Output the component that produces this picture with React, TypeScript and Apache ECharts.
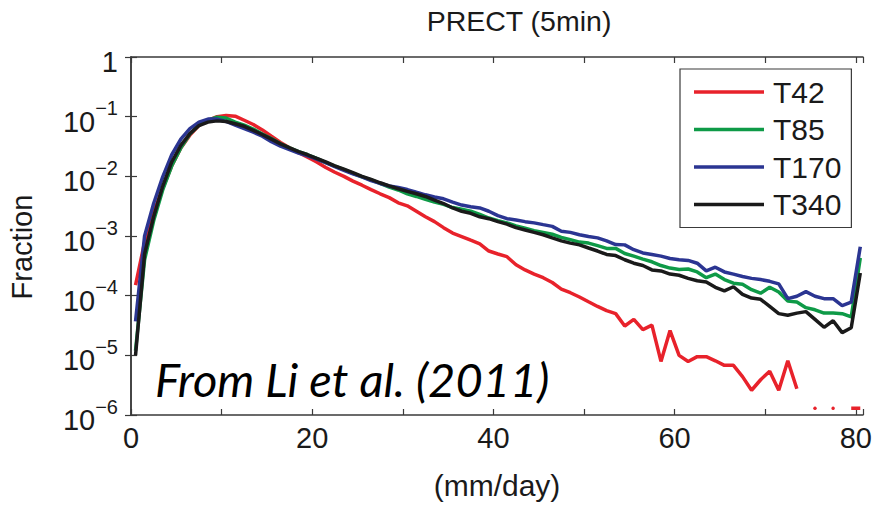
import React, { useEffect, useRef } from "react";
import * as echarts from "echarts";

// Bin centres (mm/day)
const binCenters = [
  0.5, 1.5, 2.5, 3.5, 4.5, 5.5, 6.5, 7.5, 8.5, 9.5,
  10.5, 11.5, 12.5, 13.5, 14.5, 15.5, 16.5, 17.5, 18.5, 19.5,
  20.5, 21.5, 22.5, 23.5, 24.5, 25.5, 26.5, 27.5, 28.5, 29.5,
  30.5, 31.5, 32.5, 33.5, 34.5, 35.5, 36.5, 37.5, 38.5, 39.5,
  40.5, 41.5, 42.5, 43.5, 44.5, 45.5, 46.5, 47.5, 48.5, 49.5,
  50.5, 51.5, 52.5, 53.5, 54.5, 55.5, 56.5, 57.5, 58.5, 59.5,
  60.5, 61.5, 62.5, 63.5, 64.5, 65.5, 66.5, 67.5, 68.5, 69.5,
  70.5, 71.5, 72.5, 73.5, 74.5, 75.5, 76.5, 77.5, 78.5, 79.5,
  80.5,
];

const t42 = [
  1.5e-4, 7.9e-4, 2.5e-3, 6.3e-3, 1.5e-2, 3.0e-2, 4.9e-2, 7.1e-2, 8.7e-2, 1.0e-1,
  1.05e-1, 1.02e-1, 8.7e-2, 7.4e-2, 6.0e-2, 4.7e-2, 3.7e-2, 3.0e-2, 2.5e-2, 2.1e-2,
  1.74e-2, 1.41e-2, 1.17e-2, 1.0e-2, 8.3e-3, 7.1e-3, 6.0e-3, 5.1e-3, 4.4e-3, 3.6e-3,
  3.2e-3, 2.6e-3, 2.1e-3, 1.74e-3, 1.38e-3, 1.12e-3, 9.8e-4, 8.5e-4, 7.4e-4, 5.6e-4,
  5.0e-4, 4.5e-4, 3.3e-4, 2.7e-4, 2.3e-4, 2.0e-4, 1.66e-4, 1.29e-4, 1.12e-4, 9.5e-5,
  7.9e-5, 6.6e-5, 5.6e-5, 5.0e-5, 3.1e-5, 4.0e-5, 2.7e-5, 3.2e-5, 7.9e-6, 2.6e-5,
  1.0e-5, 7.9e-6, 9.5e-6, 9.5e-6, 8.1e-6, 6.8e-6, 6.8e-6, 4.4e-6, 2.6e-6, 3.9e-6,
  5.4e-6, 2.6e-6, 8.1e-6, 2.75e-6, null, 1.3e-6, null, 1.3e-6, null, 1.3e-6,
  1.3e-6,
];

const t85 = [
  1.2e-5, 4.0e-4, 1.8e-3, 5.9e-3, 1.5e-2, 3.0e-2, 5.1e-2, 7.2e-2, 8.7e-2, 9.8e-2,
  9.5e-2, 8.1e-2, 7.2e-2, 6.2e-2, 5.1e-2, 4.3e-2, 3.5e-2, 3.0e-2, 2.6e-2, 2.3e-2,
  2.0e-2, 1.7e-2, 1.48e-2, 1.29e-2, 1.12e-2, 9.8e-3, 8.7e-3, 7.6e-3, 6.6e-3, 5.9e-3,
  5.1e-3, 4.6e-3, 4.1e-3, 3.7e-3, 3.4e-3, 3.0e-3, 2.8e-3, 2.6e-3, 2.3e-3, 2.0e-3,
  1.8e-3, 1.66e-3, 1.48e-3, 1.35e-3, 1.23e-3, 1.15e-3, 1.07e-3, 9.5e-4, 8.7e-4, 7.9e-4,
  7.6e-4, 6.9e-4, 6.2e-4, 6.2e-4, 5.1e-4, 4.6e-4, 4.1e-4, 3.7e-4, 3.2e-4, 2.9e-4,
  2.75e-4, 2.8e-4, 2.5e-4, 2.0e-4, 2.3e-4, 1.86e-4, 1.62e-4, 1.55e-4, 1.26e-4, 1.1e-4,
  1.38e-4, 1.15e-4, 8.1e-5, 7.8e-5, 6.3e-5, 5.8e-5, 5.1e-5, 5.1e-5, 5.0e-5, 4.4e-5,
  4.3e-4,
];

const t170 = [
  3.7e-5, 1.0e-3, 3.5e-3, 9.8e-3, 2.3e-2, 4.2e-2, 6.3e-2, 8.1e-2, 9.1e-2, 9.1e-2,
  8.3e-2, 7.2e-2, 6.3e-2, 5.5e-2, 4.7e-2, 3.8e-2, 3.2e-2, 2.8e-2, 2.45e-2, 2.2e-2,
  1.95e-2, 1.7e-2, 1.45e-2, 1.26e-2, 1.1e-2, 9.8e-3, 8.5e-3, 7.6e-3, 6.9e-3, 6.5e-3,
  6.0e-3, 5.4e-3, 4.9e-3, 4.5e-3, 4.2e-3, 3.7e-3, 3.3e-3, 3.1e-3, 2.95e-3, 2.6e-3,
  2.2e-3, 1.95e-3, 1.86e-3, 1.74e-3, 1.66e-3, 1.55e-3, 1.45e-3, 1.2e-3, 1.15e-3, 1.05e-3,
  9.8e-4, 9.3e-4, 8.3e-4, 7.2e-4, 7.1e-4, 5.9e-4, 5.2e-4, 4.9e-4, 4.6e-4, 4.2e-4,
  4.0e-4, 3.9e-4, 3.5e-4, 2.6e-4, 3.0e-4, 2.5e-4, 2.3e-4, 2.1e-4, 1.95e-4, 1.86e-4,
  1.74e-4, 1.58e-4, 8.9e-5, 9.8e-5, 1.17e-4, 9.8e-5, 8.9e-5, 8.9e-5, 6.8e-5, 7.8e-5,
  6.6e-4,
];

const t340 = [
  1.0e-5, 5.0e-4, 2.1e-3, 6.8e-3, 1.74e-2, 3.3e-2, 5.2e-2, 7.1e-2, 8.1e-2, 8.5e-2,
  8.3e-2, 7.6e-2, 6.9e-2, 5.9e-2, 5.0e-2, 4.2e-2, 3.5e-2, 3.0e-2, 2.6e-2, 2.3e-2,
  2.0e-2, 1.74e-2, 1.5e-2, 1.32e-2, 1.15e-2, 1.0e-2, 8.9e-3, 7.8e-3, 6.9e-3, 6.2e-3,
  5.6e-3, 5.1e-3, 4.6e-3, 4.0e-3, 3.5e-3, 2.95e-3, 2.6e-3, 2.4e-3, 2.1e-3, 1.95e-3,
  1.74e-3, 1.58e-3, 1.38e-3, 1.26e-3, 1.15e-3, 1.05e-3, 9.3e-4, 8.3e-4, 7.6e-4, 7.1e-4,
  6.3e-4, 5.6e-4, 4.9e-4, 4.7e-4, 4.0e-4, 3.5e-4, 3.2e-4, 2.7e-4, 2.6e-4, 2.3e-4,
  2.2e-4, 1.95e-4, 1.78e-4, 1.7e-4, 1.38e-4, 1.2e-4, 1.41e-4, 1.05e-4, 9.1e-5, 8.7e-5,
  6.6e-5, 5.0e-5, 4.7e-5, 5.1e-5, 5.4e-5, 4.0e-5, 2.95e-5, 3.8e-5, 2.4e-5, 2.9e-5,
  2.4e-4,
];

const seriesNames = ["T42", "T85", "T170", "T340"];
const seriesValues = [t42, t85, t170, t340];
const seriesColors = ["#e8222b", "#0e9a47", "#2b3592", "#1a1a1a"];
const xLabelValues = [0, 20, 40, 60, 80];

const titleText = "PRECT (5min)";
const xAxisTitle = "(mm/day)";
const yAxisTitle = "Fraction";
const noteText = "From Li et al. (2011)";

const FONT = "'Liberation Sans', Arial, Helvetica, sans-serif";
const AXIS_COLOR = "#3a3a3a";
const TEXT_COLOR = "#1a1a1a";

function buildData(values: (number | null)[], color: string) {
  return binCenters.map((x, i) => {
    const v = values[i];
    if (v === null || v === undefined) return [x, "-"];
    const prev = i > 0 ? values[i - 1] : null;
    const next = i < values.length - 1 ? values[i + 1] : null;
    if (prev == null && next == null) {
      return {
        value: [x, v],
        symbol: "circle",
        symbolSize: 3.5,
        itemStyle: { color },
      };
    }
    return [x, v];
  });
}

function yLabel(value: number) {
  const n = Math.round(Math.log10(value));
  if (n === 0) return "{b|1}";
  return "{b|10}{s|\u2212" + Math.abs(n) + "}";
}

export default function App() {
  const ref = useRef<HTMLDivElement>(null);

  useEffect(() => {
    if (!ref.current) return;
    const chart = echarts.init(ref.current, undefined, { renderer: "svg" });

    const xCommon = {
      type: "value" as const,
      min: 0,
      max: 80.8,
      interval: 10,
      splitLine: { show: false },
      axisLine: { show: true, onZero: false, lineStyle: { color: AXIS_COLOR, width: 1.5 } },
      axisTick: { show: true, inside: true, length: 6, lineStyle: { color: AXIS_COLOR, width: 1.2 } },
    };
    const yCommon = {
      type: "log" as const,
      logBase: 10,
      min: 1e-6,
      max: 1,
      splitLine: { show: false },
      minorTick: { show: false },
      axisLine: { show: true, lineStyle: { color: AXIS_COLOR, width: 1.5 } },
      axisTick: { show: true, inside: true, length: 6, lineStyle: { color: AXIS_COLOR, width: 1.2 } },
    };

    const series: any[] = seriesNames.map((name, k) => ({
      name,
      type: "line",
      data: buildData(seriesValues[k], seriesColors[k]),
      symbol: "none",
      showSymbol: true,
      connectNulls: false,
      lineStyle: { color: seriesColors[k], width: 3.5 },
      itemStyle: { color: seriesColors[k] },
      z: 2 + k,
    }));

    chart.setOption({
      animation: false,
      backgroundColor: "#ffffff",
      title: {
        text: titleText,
        left: 514,
        top: 1,
        textAlign: "center",
        textStyle: { fontFamily: FONT, fontSize: 28.5, fontWeight: "normal", color: TEXT_COLOR },
      },
      grid: { left: 131, top: 57, width: 732, height: 367, containLabel: false },
      legend: {
        orient: "vertical",
        left: 680,
        top: 69,
        data: seriesNames.map((name) => ({ name, icon: "rect" })),
        itemWidth: 70,
        itemHeight: 3.5,
        itemGap: 7.5,
        padding: [8, 10, 8, 14],
        borderColor: "#3a3a3a",
        borderWidth: 1.2,
        borderRadius: 0,
        backgroundColor: "#ffffff",
        selectedMode: false,
        textStyle: {
          fontFamily: FONT,
          fontSize: 30,
          lineHeight: 30,
          color: TEXT_COLOR,
          padding: [0, 0, 0, 4],
        },
      },
      xAxis: [
        {
          ...xCommon,
          position: "bottom",
          name: xAxisTitle,
          nameLocation: "middle",
          nameGap: 55,
          nameTextStyle: { fontFamily: FONT, fontSize: 30, color: TEXT_COLOR },
          axisLabel: {
            show: true,
            margin: 8,
            fontFamily: FONT,
            fontSize: 29,
            color: TEXT_COLOR,
            formatter: (v: number) => (xLabelValues.indexOf(v) >= 0 ? String(v) : ""),
          },
        },
        {
          ...xCommon,
          position: "top",
          axisLabel: { show: false },
        },
      ],
      yAxis: [
        {
          ...yCommon,
          position: "left",
          axisLabel: {
            show: true,
            margin: 13,
            formatter: yLabel,
            rich: {
              b: { fontFamily: FONT, fontSize: 29, color: TEXT_COLOR, padding: [10, 0, 0, 0] },
              s: { fontFamily: FONT, fontSize: 20, color: TEXT_COLOR, padding: [0, 0, 17, 0] },
            },
          },
        },
        {
          ...yCommon,
          position: "right",
          axisLabel: { show: false },
        },
      ],
      graphic: [
        {
          type: "text",
          x: 22,
          y: 247,
          rotation: Math.PI / 2,
          style: {
            text: yAxisTitle,
            fontFamily: FONT,
            fontSize: 29,
            fill: TEXT_COLOR,
            textAlign: "center",
            textVerticalAlign: "middle",
          },
        },
        {
          type: "text",
          left: 155,
          top: 355,
          z: 10,
          style: {
            text: noteText,
            fontFamily: "Lato, 'Open Sans', sans-serif",
            fontStyle: "italic",
            fontSize: 47,
            fill: "#000000",
          },
        },
      ],
      series,
    });

    return () => chart.dispose();
  }, []);

  return (
    <div
      ref={ref}
      style={{ position: "fixed", left: 0, top: 0, width: 875, height: 505, background: "#fff" }}
    />
  );
}
